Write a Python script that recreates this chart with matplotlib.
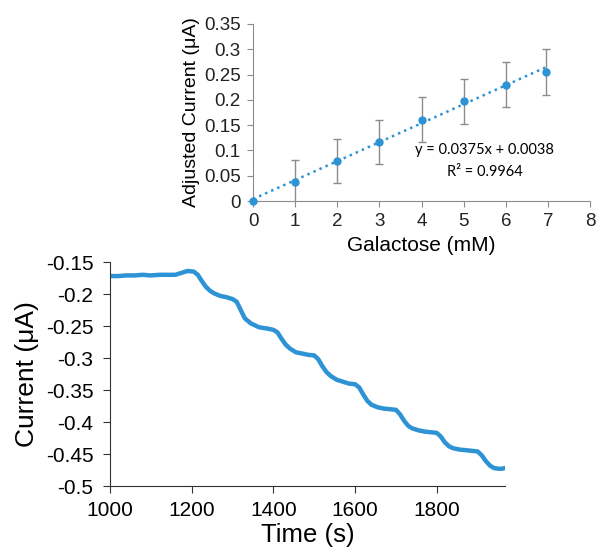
import matplotlib.pyplot as plt
import numpy as np

plt.rcParams['font.family'] = ['Liberation Sans', 'DejaVu Sans']

# calibration points (top panel)
galactose_mM = [0, 1, 2, 3, 4, 5, 6, 6.95]
adj_current = [0.0, 0.038, 0.079, 0.117, 0.161, 0.197, 0.230, 0.255]
adj_err = [0.0, 0.043, 0.044, 0.044, 0.044, 0.044, 0.044, 0.045]
fit_slope = 0.0375
fit_icept = 0.0038

# amperometric trace (bottom panel)
time_s = [1000, 1020, 1040, 1060, 1080, 1100, 1120, 1140, 1160,
          1175, 1190, 1205, 1215, 1225, 1235, 1245, 1255,
          1270, 1285, 1300, 1310, 1320, 1330, 1345, 1365, 1385, 1400,
          1410, 1420, 1430, 1440, 1455, 1470, 1485, 1500,
          1510, 1520, 1530, 1540, 1555, 1570, 1585, 1600,
          1610, 1620, 1630, 1640, 1655, 1670, 1685, 1700,
          1710, 1720, 1730, 1740, 1755, 1770, 1785, 1800,
          1810, 1820, 1830, 1840, 1855, 1870, 1885, 1900,
          1910, 1920, 1930, 1940, 1950, 1960, 1967]
current_uA = [-0.172, -0.172, -0.171, -0.171, -0.170, -0.171, -0.170, -0.170, -0.170,
              -0.167, -0.164, -0.165, -0.170, -0.180, -0.189, -0.195, -0.199,
              -0.203, -0.205, -0.208, -0.212, -0.225, -0.238, -0.246, -0.252, -0.254, -0.256,
              -0.260, -0.270, -0.279, -0.285, -0.291, -0.293, -0.295, -0.296,
              -0.302, -0.313, -0.322, -0.328, -0.334, -0.337, -0.340, -0.341,
              -0.346, -0.357, -0.367, -0.373, -0.377, -0.379, -0.380, -0.381,
              -0.388, -0.398, -0.406, -0.410, -0.413, -0.415, -0.416, -0.417,
              -0.423, -0.432, -0.438, -0.441, -0.443, -0.444, -0.445, -0.446,
              -0.452, -0.461, -0.468, -0.472, -0.473, -0.473, -0.472]

W, H = 596, 558
fig = plt.figure(figsize=(W / 100, H / 100), dpi=100)

def px_axes(left, top, right, bottom):
    return fig.add_axes([left / W, 1 - bottom / H, (right - left) / W, (bottom - top) / H])

blue = '#2E93D4'
grey = '#8C8C8C'

# ---- top: calibration curve
ax1 = px_axes(253, 24, 590, 201)
ax1.errorbar(galactose_mM, adj_current, yerr=adj_err, fmt='none',
             ecolor=grey, elinewidth=1, capsize=3, capthick=1, zorder=2)
ax1.plot(galactose_mM, adj_current, 'o', color=blue, ms=5, zorder=4, clip_on=False)
xfit = np.array([0, 7])
ax1.plot(xfit, fit_slope * xfit + fit_icept, ':', color=blue, lw=1.8, zorder=3)
ax1.set_xlim(0, 8)
ax1.set_ylim(0, 0.35)
ax1.set_xticks(range(0, 9))
ax1.set_yticks([0, 0.05, 0.1, 0.15, 0.2, 0.25, 0.3, 0.35])
ax1.set_yticklabels(['0', '0.05', '0.1', '0.15', '0.2', '0.25', '0.3', '0.35'])
for s in ['top', 'right']:
    ax1.spines[s].set_visible(False)
for s in ['left', 'bottom']:
    ax1.spines[s].set_color(grey)
ax1.tick_params(direction='out', length=4, color=grey, labelsize=13.5, labelcolor='#222222')
ax1.tick_params(axis='y', pad=5)
ax1.tick_params(axis='x', pad=5)
ax1.set_xlabel('Galactose (mM)', fontsize=15, labelpad=4)
ax1.set_ylabel('Adjusted Current (μA)', fontsize=14, labelpad=3)
ax1.text(5.5, 0.101, 'y = 0.0375x + 0.0038', family=['Lato', 'DejaVu Sans'], fontsize=10.5,
         ha='center', va='center')
ax1.text(5.5, 0.057, 'R² = 0.9964', family=['Lato', 'DejaVu Sans'], fontsize=10.5,
         ha='center', va='center')

# ---- bottom: current vs time
ax2 = px_axes(110, 262, 505, 486)
ax2.plot(time_s, current_uA, color=blue, lw=3.2)
ax2.set_xlim(1000, 1967)
ax2.set_ylim(-0.5, -0.15)
ax2.set_xticks([1000, 1200, 1400, 1600, 1800])
ax2.set_yticks([-0.5, -0.45, -0.4, -0.35, -0.3, -0.25, -0.2, -0.15])
ax2.set_yticklabels(['-0.5', '-0.45', '-0.4', '-0.35', '-0.3', '-0.25', '-0.2', '-0.15'])
for s in ['top', 'right']:
    ax2.spines[s].set_visible(False)
for s in ['left', 'bottom']:
    ax2.spines[s].set_color('#333333')
ax2.tick_params(direction='out', length=5, color='#333333', labelsize=15)
ax2.tick_params(axis='y', pad=7)
ax2.tick_params(axis='x', pad=6)
ax2.set_xlabel('Time (s)', fontsize=18.5, labelpad=2)
ax2.set_ylabel('Current (μA)', fontsize=19, labelpad=5)

plt.savefig('out.png', dpi=100)
